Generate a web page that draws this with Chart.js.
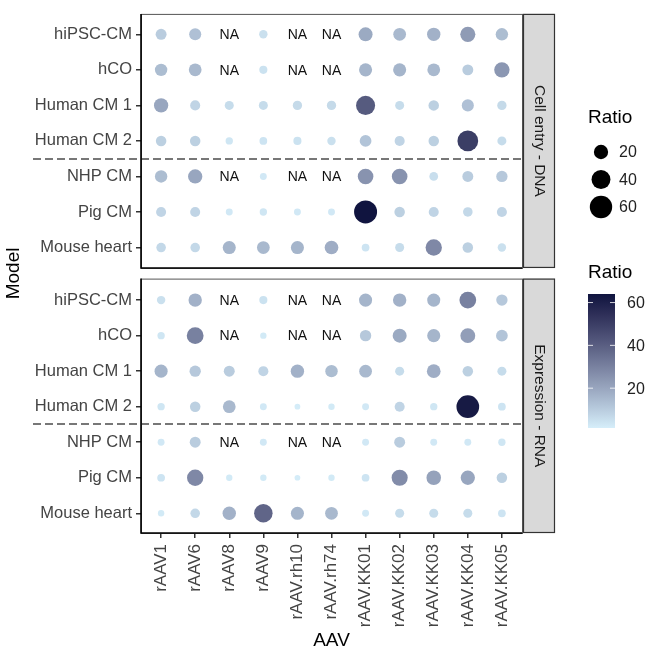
<!DOCTYPE html>
<html>
<head>
<meta charset="utf-8">
<script src="https://cdn.jsdelivr.net/npm/chart.js@4"></script>
<style>
  html, body { margin: 0; padding: 0; background: #fff; }
  #wrap { width: 647px; height: 654px; }
</style>
</head>
<body>
<div id="wrap"><canvas id="chart"></canvas></div>
<script>
// ---------- data ----------
const models = ["hiPSC-CM", "hCO", "Human CM 1", "Human CM 2", "NHP CM", "Pig CM", "Mouse heart"];
const aavs = ["rAAV1", "rAAV6", "rAAV8", "rAAV9", "rAAV.rh10", "rAAV.rh74",
              "rAAV.KK01", "rAAV.KK02", "rAAV.KK03", "rAAV.KK04", "rAAV.KK05"];
const panels = ["Cell entry - DNA", "Expression - RNA"];

// null = NA
const dnaRatio = [
  [10, 13, null, 5, null, null, 19, 15, 17, 23, 14],
  [14, 15, null, 4.5, null, null, 16, 16, 15, 10, 24],
  [20, 8, 6, 6, 6.5, 6.5, 41, 6, 9, 13, 6.5],
  [9, 9, 3.5, 4, 4.5, 5, 12, 8, 9, 50, 6],
  [14, 20, null, 3, null, null, 25, 25, 5.5, 10, 11],
  [8, 8, 3, 3.5, 3, 3, 64, 9, 8, 7, 8],
  [7, 7, 16, 15, 16, 18, 4, 6, 28, 9, 5]
];
const rnaRatio = [
  [5, 17, null, 4.5, null, null, 16, 17, 16, 30, 11],
  [3.5, 30, null, 2.5, null, null, 11, 19, 16, 22, 12],
  [16, 11, 10, 8, 17, 14, 15, 6, 18, 9, 6],
  [3.5, 9, 15, 3, 2, 2.5, 3, 8, 3.5, 62, 4],
  [3, 10, null, 3, null, null, 3, 10, 3, 3, 3.5],
  [4, 28, 2.5, 2.5, 2, 2.5, 4, 27, 21, 20, 9],
  [2.5, 7, 17, 38, 16, 15, 3, 6, 6, 6, 4]
];
const legendBreaks = [20, 40, 60];

// ---------- scales ----------
const FONT = "'Liberation Sans', Arial, Helvetica, sans-serif";
Chart.defaults.font.family = FONT;

const allVals = dnaRatio.concat(rnaRatio).flat().filter(v => v !== null);
const vMin = Math.min(...allVals) - 0.6;   // colour bar starts a little below the smallest point
const vMax = Math.max(...allVals);

const PANEL2_OFFSET = 7.48;   // row offset of the second facet
const PAD = 0.575;            // half-row padding inside each panel
const rowPos = models.map((m, i) => i).concat(models.map((m, i) => PANEL2_OFFSET + i));

// point size like ggplot scale_size (area)
const D_MAX = 23;
function radiusOf(v) {
  const s = Math.sqrt((v - vMin) / (vMax - vMin));
  return D_MAX * (1 + 5 * s) / 6 / 2;
}

// colour gradient interpolated in Lab
const LOW = "#D6EEFA", HIGH = "#10143F";
function hexToRgb(h) { const n = parseInt(h.slice(1), 16); return [n >> 16 & 255, n >> 8 & 255, n & 255]; }
function toLin(c) { c /= 255; return c <= 0.04045 ? c / 12.92 : Math.pow((c + 0.055) / 1.055, 2.4); }
function fromLin(c) {
  c = c <= 0.0031308 ? 12.92 * c : 1.055 * Math.pow(c, 1 / 2.4) - 0.055;
  return Math.round(Math.max(0, Math.min(1, c)) * 255);
}
function rgbToLab(rgb) {
  const [r, g, b] = rgb.map(toLin);
  const x = (0.4124 * r + 0.3576 * g + 0.1805 * b) / 0.95047;
  const y = 0.2126 * r + 0.7152 * g + 0.0722 * b;
  const z = (0.0193 * r + 0.1192 * g + 0.9505 * b) / 1.08883;
  const f = t => t > 0.008856 ? Math.cbrt(t) : 7.787 * t + 16 / 116;
  return [116 * f(y) - 16, 500 * (f(x) - f(y)), 200 * (f(y) - f(z))];
}
function labToRgb([L, a, b]) {
  const fy = (L + 16) / 116, fx = fy + a / 500, fz = fy - b / 200;
  const fi = t => t * t * t > 0.008856 ? t * t * t : (t - 16 / 116) / 7.787;
  const x = fi(fx) * 0.95047, y = fi(fy), z = fi(fz) * 1.08883;
  return [
    fromLin(3.2406 * x - 1.5372 * y - 0.4986 * z),
    fromLin(-0.9689 * x + 1.8758 * y + 0.0415 * z),
    fromLin(0.0557 * x - 0.2040 * y + 1.0570 * z)
  ];
}
const labLow = rgbToLab(hexToRgb(LOW)), labHigh = rgbToLab(hexToRgb(HIGH));
function colorOf(v) {
  const t = Math.max(0, Math.min(1, (v - vMin) / (vMax - vMin)));
  const c = labToRgb(labLow.map((l, k) => l + (labHigh[k] - l) * t));
  return `rgb(${c[0]},${c[1]},${c[2]})`;
}

// ---------- build points ----------
function toPoints(rows, offset) {
  const pts = [];
  rows.forEach((row, i) => row.forEach((v, j) => {
    if (v !== null) pts.push({ x: j, y: offset + i, v: v });
  }));
  return pts;
}
function naCells(rows, offset) {
  const out = [];
  rows.forEach((row, i) => row.forEach((v, j) => { if (v === null) out.push({ x: j, y: offset + i }); }));
  return out;
}

const bubbleStyle = {
  radius: ctx => radiusOf(ctx.raw.v),
  hoverRadius: 0,
  backgroundColor: ctx => colorOf(ctx.raw.v),
  borderWidth: 0
};

// ---------- facet / legend drawing ----------
const facetPlugin = {
  id: "facets",
  afterDraw(chart) {
    const { ctx, scales: { x, y } } = chart;
    const left = x.left, right = x.right;
    const boxes = [
      [y.getPixelForValue(-PAD), y.getPixelForValue(6 + PAD)],
      [y.getPixelForValue(PANEL2_OFFSET - PAD - 0.03), y.getPixelForValue(PANEL2_OFFSET + 6 + PAD - 0.02)]
    ];
    ctx.save();

    // NA labels
    ctx.fillStyle = "#111";
    ctx.font = "14px " + FONT;
    ctx.textAlign = "center";
    ctx.textBaseline = "middle";
    naCells(dnaRatio, 0).concat(naCells(rnaRatio, PANEL2_OFFSET)).forEach(c => {
      ctx.fillText("NA", x.getPixelForValue(c.x), y.getPixelForValue(c.y) + 1);
    });

    // dashed separators between human and animal models
    ctx.strokeStyle = "#777";
    ctx.lineWidth = 2;
    ctx.setLineDash([8, 4]);
    [3.5, PANEL2_OFFSET + 3.5].forEach(v => {
      const py = Math.round(y.getPixelForValue(v));
      ctx.beginPath();
      ctx.moveTo(33, py);
      ctx.lineTo(right, py);
      ctx.stroke();
    });
    ctx.setLineDash([]);

    // panel borders and strips
    boxes.forEach(([top, bottom], k) => {
      ctx.strokeStyle = "#555";
      ctx.lineWidth = 1;
      ctx.strokeRect(left + 0.5, top + 0.5, right - left, bottom - top);
      ctx.strokeStyle = "#000";
      ctx.lineWidth = 1.6;
      ctx.beginPath();
      ctx.moveTo(left, top);
      ctx.lineTo(left, bottom);
      ctx.lineTo(right, bottom);
      ctx.stroke();

      const sx = right + 1, sw = 32;
      ctx.fillStyle = "#d9d9d9";
      ctx.fillRect(sx, top, sw, bottom - top);
      ctx.strokeStyle = "#333";
      ctx.lineWidth = 1.2;
      ctx.strokeRect(sx + 0.5, top + 0.5, sw - 1, bottom - top - 1);
      ctx.save();
      ctx.translate(sx + sw / 2, (top + bottom) / 2);
      ctx.rotate(Math.PI / 2);
      ctx.fillStyle = "#1a1a1a";
      ctx.font = "15.5px " + FONT;
      ctx.textAlign = "center";
      ctx.textBaseline = "middle";
      ctx.fillText(panels[k], 0, 0);
      ctx.restore();
    });

    // size legend
    const lx = 588;
    ctx.fillStyle = "#000";
    ctx.font = "19px " + FONT;
    ctx.textAlign = "left";
    ctx.textBaseline = "middle";
    ctx.fillText("Ratio", lx, 118);
    ctx.font = "16px " + FONT;
    legendBreaks.forEach((b, i) => {
      const cy = 152 + i * 27.5;
      ctx.fillStyle = "#000";
      ctx.beginPath();
      ctx.arc(lx + 13, cy, radiusOf(b), 0, Math.PI * 2);
      ctx.fill();
      ctx.fillStyle = "#222";
      ctx.fillText(String(b), lx + 31, cy + 1);
    });

    // colour bar legend
    ctx.fillStyle = "#000";
    ctx.font = "19px " + FONT;
    ctx.fillText("Ratio", lx, 273);
    const bx = lx, by = 294, bw = 27, bh = 134;
    const grad = ctx.createLinearGradient(0, by + bh, 0, by);
    for (let k = 0; k <= 20; k++) grad.addColorStop(k / 20, colorOf(vMin + (vMax - vMin) * k / 20));
    ctx.fillStyle = grad;
    ctx.fillRect(bx, by, bw, bh);
    ctx.font = "16px " + FONT;
    legendBreaks.forEach(b => {
      const py = by + (vMax - b) / (vMax - vMin) * bh;
      ctx.strokeStyle = "rgba(255,255,255,0.8)";
      ctx.lineWidth = 1;
      ctx.beginPath();
      ctx.moveTo(bx, py); ctx.lineTo(bx + 5, py);
      ctx.moveTo(bx + bw - 5, py); ctx.lineTo(bx + bw, py);
      ctx.stroke();
      ctx.fillStyle = "#222";
      ctx.fillText(String(b), lx + 39, py + 1);
    });

    ctx.restore();
  }
};

// ---------- chart ----------
new Chart(document.getElementById("chart"), {
  type: "bubble",
  data: {
    datasets: [
      Object.assign({ label: panels[0], data: toPoints(dnaRatio, 0) }, bubbleStyle),
      Object.assign({ label: panels[1], data: toPoints(rnaRatio, PANEL2_OFFSET) }, bubbleStyle)
    ]
  },
  options: {
    responsive: true,
    maintainAspectRatio: false,
    animation: false,
    events: [],
    layout: { padding: { top: 2, right: 125, left: 0, bottom: 0 } },
    plugins: { legend: { display: false }, tooltip: { enabled: false } },
    scales: {
      x: {
        type: "linear",
        min: -0.59,
        max: 10.59,
        afterBuildTicks: s => { s.ticks = aavs.map((a, i) => ({ value: i })); },
        afterFit: s => { s.height = 121; },
        ticks: {
          callback: (v, i) => aavs[i],
          autoSkip: false,
          maxRotation: 90,
          minRotation: 90,
          padding: 6,
          color: "#444",
          font: { size: 17 }
        },
        grid: { drawOnChartArea: false, drawTicks: true, tickLength: 5, tickColor: "#333", lineWidth: 1.5 },
        border: { display: false },
        title: { display: true, text: "AAV", color: "#000", font: { size: 19 }, padding: { top: 0, bottom: 2 } }
      },
      y: {
        type: "linear",
        reverse: true,
        min: -PAD,
        max: PANEL2_OFFSET + 6 + PAD - 0.02,
        afterBuildTicks: s => { s.ticks = rowPos.map(v => ({ value: v })); },
        afterFit: s => { s.width = 141; },
        ticks: {
          callback: (v, i) => models[i % models.length],
          autoSkip: false,
          padding: 4,
          color: "#444",
          font: { size: 16.5 }
        },
        grid: { drawOnChartArea: false, drawTicks: true, tickLength: 5, tickColor: "#333", lineWidth: 1.5 },
        border: { display: false },
        title: { display: true, text: "Model", color: "#000", font: { size: 19 }, padding: { top: 2, bottom: 0 } }
      }
    }
  },
  plugins: [facetPlugin]
});
</script>
</body>
</html>
